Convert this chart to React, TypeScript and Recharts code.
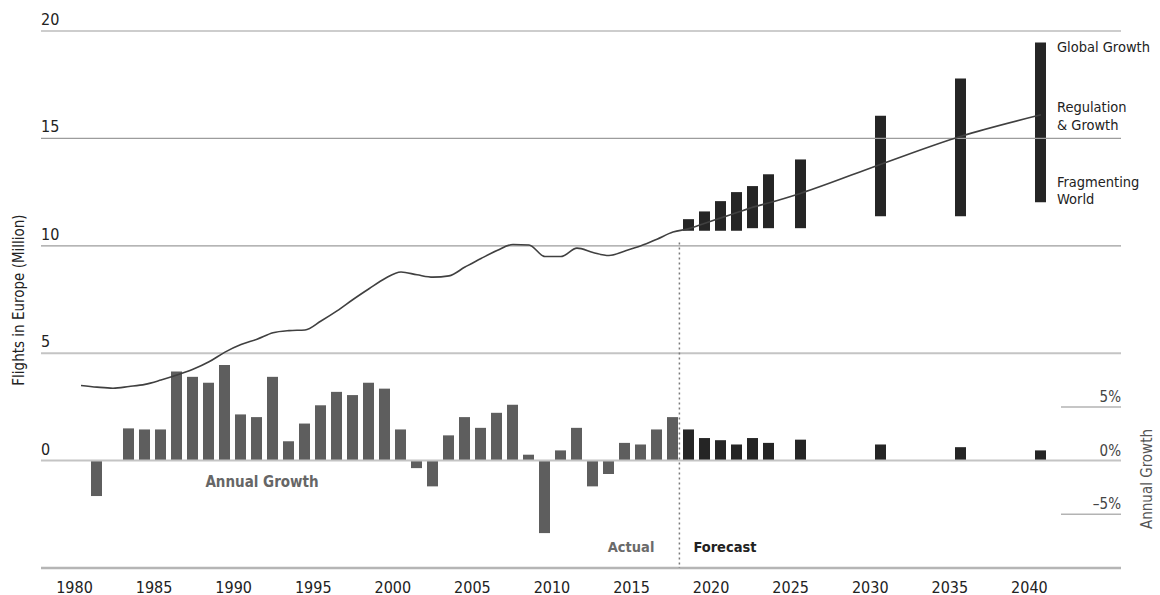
import React from 'react'
import {
  ComposedChart, Bar, Line, XAxis, YAxis, ReferenceLine, Cell,
} from 'recharts'

const FONT = "'DejaVu Sans Condensed', 'DejaVu Sans', sans-serif"

const years = [
  1980, 1981, 1982, 1983, 1984, 1985, 1986, 1987, 1988, 1989,
  1990, 1991, 1992, 1993, 1994, 1995, 1996, 1997, 1998, 1999,
  2000, 2001, 2002, 2003, 2004, 2005, 2006, 2007, 2008, 2009,
  2010, 2011, 2012, 2013, 2014, 2015, 2016, 2017, 2018, 2019,
  2020, 2021, 2022, 2023, 2025, 2030, 2035, 2040,
]

// flights in Europe, millions (actual to 2017, then Regulation & Growth)
const flights = [
  3.5, 3.42, 3.37, 3.45, 3.55, 3.75, 3.98, 4.25, 4.6, 5.05,
  5.4, 5.65, 5.95, 6.05, 6.08, 6.5, 6.97, 7.5, 8.0, 8.48,
  8.78, 8.65, 8.54, 8.6, 9.01, 9.41, 9.78, 10.06, 10.04, 9.5,
  9.5, 9.89, 9.69, 9.55, 9.76, 10.0, 10.31, 10.64, 10.8, 11.05,
  11.3, 11.55, 11.8, 12.0, 12.45, 13.8, 15.1, 16.1,
]

// annual growth, %
const growth = [
  null, -3.3, null, 3.0, 2.9, 2.9, 8.3, 7.8, 7.25, 8.9,
  4.3, 4.05, 7.8, 1.8, 3.45, 5.15, 6.4, 6.1, 7.25, 6.7,
  2.9, -0.7, -2.4, 2.35, 4.05, 3.05, 4.45, 5.2, 0.55, -6.75,
  0.95, 3.05, -2.4, -1.25, 1.65, 1.5, 2.9, 4.05, 2.9, 2.1,
  1.9, 1.5, 2.1, 1.65, 1.95, 1.5, 1.25, 0.95,
]

const scenarioYears = [2018, 2019, 2020, 2021, 2022, 2023, 2025, 2030, 2035, 2040]
const scenarioLow = [10.7, 10.7, 10.7, 10.7, 10.82, 10.82, 10.82, 11.38, 11.38, 12.03]
const scenarioHigh = [11.24, 11.6, 12.08, 12.5, 12.78, 13.33, 14.02, 16.05, 17.79, 19.46]

const yearTicks = [1980, 1985, 1990, 1995, 2000, 2005, 2010, 2015, 2020, 2025, 2030, 2035, 2040]
const flightTicks = [0, 5, 10, 15, 20]
const growthTicks = [-5, 0, 5]
const firstForecastYear = 2018
const splitYear = 2017.4

const table = years.map((year, i) => {
  const s = scenarioYears.indexOf(year)
  return {
    year,
    flights: flights[i],
    growth: growth[i],
    range: s >= 0 ? [scenarioLow[s], scenarioHigh[s]] : null,
  }
})

function YearTick({ x, y, payload }: any) {
  const v = Number(payload.value)
  return (
    <text x={Number(x) - 6.5 - (v - 1980) * 0.085} y={Number(y) + 16.5} textAnchor="middle"
      fontSize={16} fill="#222" fontFamily={FONT}>
      {v}
    </text>
  )
}

function FlightTick({ x, y, payload }: any) {
  return (
    <text x={Number(x)} y={Number(y) - 6} textAnchor="start" fontSize={16} fill="#222" fontFamily={FONT}>
      {payload.value}
    </text>
  )
}

function GrowthTick({ x, y, payload }: any) {
  const v = Number(payload.value)
  const px = Number(x)
  const py = Number(y)
  return (
    <g>
      {v !== 0 && <line x1={px - 60} x2={px} y1={py} y2={py} stroke="#b3b3b3" strokeWidth={1.5} />}
      <text x={px} y={py - 5} textAnchor="end" fontSize={15} fill="#444" fontFamily={FONT}>
        {v < 0 ? `–${-v}%` : `${v}%`}
      </text>
    </g>
  )
}

function SplitLabels({ viewBox }: any) {
  const x = viewBox.x
  const bottom = viewBox.y + viewBox.height
  return (
    <g fontFamily={FONT} fontSize={14.5} fontWeight="bold">
      <text x={x - 25} y={bottom - 16} textAnchor="end" fill="#6a6a6a">Actual</text>
      <text x={x + 14} y={bottom - 16} textAnchor="start" fill="#222">Forecast</text>
    </g>
  )
}

export default function App() {
  return (
    <div style={{ position: 'absolute', left: 0, top: 0, background: '#fff' }}>
      <ComposedChart width={1160} height={595} data={table}
        margin={{ top: 31, right: 0, bottom: 0, left: 0 }} style={{ fontFamily: FONT }}>
        <XAxis xAxisId="yr" dataKey="year" type="number" domain={[1977.5, 2045]}
          ticks={yearTicks} interval={0} allowDataOverflow height={27}
          tickSize={6} tickMargin={2} tickLine={false} axisLine={false}
          tick={(p: any) => <YearTick {...p} />} />
        <XAxis xAxisId="sc" dataKey="year" type="number" domain={[1977.5, 2045]}
          ticks={yearTicks} allowDataOverflow hide orientation="top" height={0} />
        <YAxis yAxisId="fl" orientation="left" width={41} domain={[-5, 20]} ticks={flightTicks}
          allowDataOverflow axisLine={false} tickLine={false} tickSize={0} tickMargin={0}
          tick={(p: any) => <FlightTick {...p} />} />
        <YAxis yAxisId="gr" orientation="right" width={39} domain={[-10, 40]} ticks={growthTicks}
          allowDataOverflow axisLine={false} tickLine={false} tickSize={0} tickMargin={0}
          tick={(p: any) => <GrowthTick {...p} />} />

        {flightTicks.map(v => (
          <ReferenceLine key={v} xAxisId="yr" yAxisId="fl" y={v}
            stroke={v >= 10 ? '#9c9c9c' : '#c4c4c4'} strokeWidth={v >= 10 ? 1.2 : 2} />
        ))}
        <ReferenceLine xAxisId="yr" yAxisId="fl" y={-5} stroke="#b5b5b5" strokeWidth={2.5} />

        <Bar xAxisId="yr" yAxisId="gr" dataKey="growth" barSize={11} isAnimationActive={false}>
          {table.map(d => (
            <Cell key={d.year} fill={d.year >= firstForecastYear ? '#252525' : '#5e5e5e'} />
          ))}
        </Bar>
        <Bar xAxisId="sc" yAxisId="fl" dataKey="range" barSize={11} fill="#252525" isAnimationActive={false} />

        <ReferenceLine xAxisId="yr" yAxisId="fl"
          segment={[{ x: splitYear, y: 10.15 }, { x: splitYear, y: -5 }]}
          stroke="#7a7a7a" strokeWidth={1.5} strokeDasharray="2 3"
          label={{ content: (p: any) => <SplitLabels {...p} /> }} />

        <Line xAxisId="yr" yAxisId="fl" dataKey="flights" type="monotone" stroke="#404040"
          strokeWidth={1.6} dot={false} activeDot={false} isAnimationActive={false} />

        <text x={19} y={300} transform="rotate(-90 19 300)" textAnchor="middle"
          dominantBaseline="central" fontSize={15} fill="#222" fontFamily={FONT}>
          Flights in Europe (Million)
        </text>
        <text x={1147} y={479} transform="rotate(-90 1147 479)" textAnchor="middle"
          dominantBaseline="central" fontSize={15} fill="#555" fontFamily={FONT}>
          Annual Growth
        </text>
        <text x={262} y={487} textAnchor="middle" fontSize={15} fontWeight="bold"
          fill="#666" fontFamily={FONT}>
          Annual Growth
        </text>
        <g fontFamily={FONT} fontSize={14.5} fill="#222">
          <text x={1057} y={52}>Global Growth</text>
          <text x={1057} y={112}>Regulation</text>
          <text x={1057} y={130}>&amp; Growth</text>
          <text x={1057} y={187}>Fragmenting</text>
          <text x={1057} y={204}>World</text>
        </g>
      </ComposedChart>
    </div>
  )
}
